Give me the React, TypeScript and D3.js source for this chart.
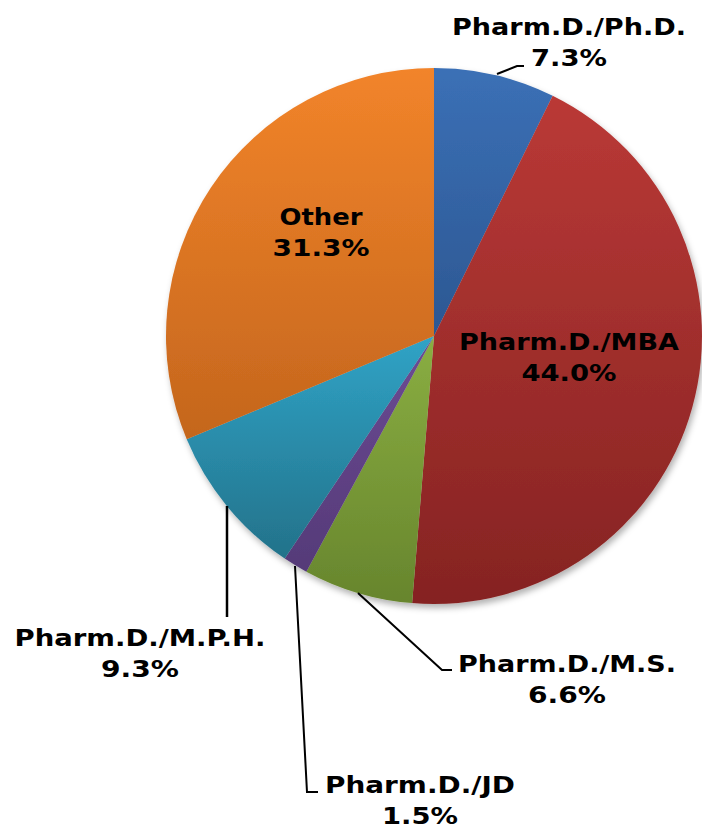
import React from "react";
import * as d3 from "d3";

const categories = ["Pharm.D./Ph.D.", "Pharm.D./MBA", "Pharm.D./M.S.", "Pharm.D./JD", "Pharm.D./M.P.H.", "Other"];
const values = [7.3, 44.0, 6.6, 1.5, 9.3, 31.3];
const valueLabels = ["7.3%", "44.0%", "6.6%", "1.5%", "9.3%", "31.3%"];
const topColors = ["#3b70b6", "#ba3936", "#8aae42", "#6c4b94", "#30a3c6", "#f2842a"];
const bottomColors = ["#2c5792", "#852322", "#67852d", "#553a78", "#23728a", "#c4661d"];

// label layout: [x center, baseline line1, width line1, width line2]
const labelPos: [number, number, number, number][] = [
  [569, 35, 234, 76],
  [569, 350, 220, 95],
  [567, 672, 218, 78],
  [420, 793, 190, 76],
  [140, 646, 251, 78],
  [321, 225, 83, 97],
];

const leaders: [number, number][][] = [
  [[497, 74], [517, 66], [524, 66]],
  [],
  [[358, 593], [442, 670], [452, 670]],
  [[295, 566], [307, 792], [318, 792]],
  [[227, 506], [227, 617]],
  [],
];

export default function App() {
  const cx = 434, cy = 336, r = 268;
  const pie = d3.pie<number>().sort(null).value((d) => d)(values);
  const arc = d3.arc<d3.PieArcDatum<number>>().innerRadius(0).outerRadius(r);
  const line = d3.line();
  return (
    <svg width={702} height={826} style={{ position: "absolute", left: 0, top: 0 }}>
      <defs>
        {categories.map((c, i) => (
          <linearGradient key={c} id={`g${i}`} x1="0" y1="0" x2="0" y2="1">
            <stop offset="0" stopColor={topColors[i]} />
            <stop offset="1" stopColor={bottomColors[i]} />
          </linearGradient>
        ))}
        <filter id="sh" x="-10%" y="-10%" width="125%" height="125%">
          <feDropShadow dx="2" dy="4" stdDeviation="3" floodColor="#000" floodOpacity="0.3" />
        </filter>
      </defs>
      <g transform={`translate(${cx},${cy})`} filter="url(#sh)">
        {pie.map((p, i) => (
          <path key={i} d={arc(p) || ""} fill={`url(#g${i})`} />
        ))}
      </g>
      {leaders.map((pts, i) =>
        pts.length ? (
          <path key={i} d={line(pts) || ""} fill="none" stroke="#000" strokeWidth={i === 4 ? 2.5 : 2} />
        ) : null
      )}
      {labelPos.map(([x, y, w1, w2], i) => (
        <g key={i} fontFamily="DejaVu Sans, Verdana, sans-serif" fontWeight="bold" fontSize={23.5} fill="#000" textAnchor="middle">
          <text x={x} y={y} textLength={w1} lengthAdjust="spacingAndGlyphs">{categories[i]}</text>
          <text x={x} y={y + 31} textLength={w2} lengthAdjust="spacingAndGlyphs">{valueLabels[i]}</text>
        </g>
      ))}
    </svg>
  );
}
